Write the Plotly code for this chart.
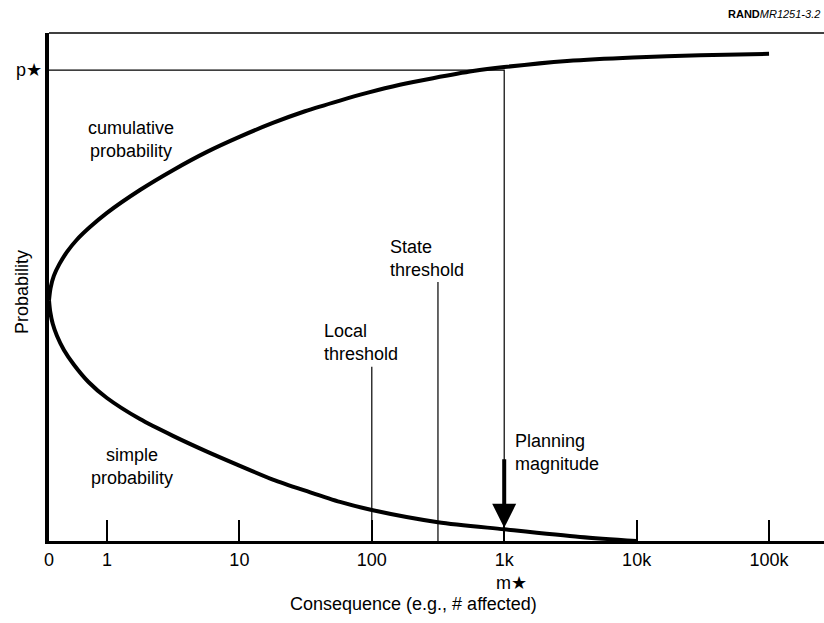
import math
import plotly.graph_objects as go

# ---- data ----
tick_vals = [0.365, 1, 10, 100, 1000, 10000, 100000]
tick_text = ["0", "1", "10", "100", "1k", "10k", "100k"]

cum_x = [0.365, 0.375, 0.397, 0.437, 0.499, 0.592, 0.744, 1.0, 1.775, 3.15, 5.69, 10.1, 17.9,
         31.3, 57.5, 92, 163, 290, 581, 1000, 2980, 9390, 30100, 100000]
cum_y = [0.474, 0.498, 0.522, 0.545, 0.569, 0.593, 0.618, 0.646, 0.691, 0.730, 0.766, 0.796, 0.823,
         0.846, 0.867, 0.882, 0.898, 0.911, 0.925, 0.933, 0.945, 0.952, 0.956, 0.959]

simple_x = [0.365, 0.373, 0.390, 0.419, 0.473, 0.563, 0.725, 1.0, 1.775, 3.15, 5.69, 10.1, 17.9,
            32.4, 57.5, 100, 316, 1000, 3737, 10000]
simple_y = [0.474, 0.451, 0.427, 0.404, 0.376, 0.347, 0.313, 0.2815, 0.240, 0.207, 0.176, 0.148, 0.121,
            0.098, 0.077, 0.061, 0.037, 0.023, 0.008, 0.0]

p_star = 0.927
m_star = 1000
local_threshold = 100
local_top = 0.343
state_threshold = 316
state_top = 0.510
arrow_tip = 0.026

x_min = 0.365
x_max = 260000

FONT = "Liberation Sans, Arial, Helvetica, sans-serif"

fig = go.Figure()

curve_line = dict(color="black", width=4, shape="spline", smoothing=0.8)
fig.add_trace(go.Scatter(x=cum_x, y=cum_y, mode="lines", line=curve_line, hoverinfo="skip"))
fig.add_trace(go.Scatter(x=simple_x, y=simple_y, mode="lines", line=curve_line, hoverinfo="skip"))

# p* horizontal and planning-magnitude vertical
fig.add_trace(go.Scatter(x=[x_min, m_star, m_star], y=[p_star, p_star, 0], mode="lines",
                         line=dict(color="black", width=1.2), hoverinfo="skip"))
# thresholds
fig.add_trace(go.Scatter(x=[local_threshold, local_threshold], y=[local_top, 0], mode="lines",
                         line=dict(color="black", width=1.2), hoverinfo="skip"))
fig.add_trace(go.Scatter(x=[state_threshold, state_threshold], y=[state_top, 0], mode="lines",
                         line=dict(color="black", width=1.2), hoverinfo="skip"))

W, H = 824, 623
L, R, T, B = 49, 0, 33, 82
PW, PH = W - L - R, H - T - B

def px(xp):
    return (xp - L) / PW

def py(yp):
    return (H - B - yp) / PH

anns = []
def txt(text, x, y, xanchor="center", yanchor="middle", size=18, align="center", angle=0):
    anns.append(dict(text=text, x=x, y=y, xref="paper", yref="paper", xanchor=xanchor, yanchor=yanchor,
                     showarrow=False, align=align, textangle=angle,
                     font=dict(family=FONT, size=size, color="black")))

txt("p★", px(44), p_star, xanchor="right", yanchor="middle")
txt("Probability", px(22), py(292), angle=-90)
txt("cumulative<br>probability", px(131), py(139))
txt("simple<br>probability", px(132), py(466))
txt("Local<br>threshold", px(322), py(342), xanchor="left", align="left")
txt("State<br>threshold", px(388), py(258), xanchor="left", align="left")
txt("Planning<br>magnitude", px(513), py(452), xanchor="left", align="left")
txt("m★", px(494), py(583), xanchor="left")
txt("Consequence (e.g., # affected)", px(413), py(604))
txt("<b>RAND</b><i>MR1251-3.2</i>", px(822), py(14), xanchor="right", size=11)

# thick arrow
anns.append(dict(x=math.log10(m_star), y=arrow_tip, xref="x", yref="y", ax=0, ay=-70,
                 axref="pixel", ayref="pixel", showarrow=True, arrowhead=2, arrowsize=1.2,
                 arrowwidth=4, arrowcolor="black", text=""))

fig.update_layout(
    width=W, height=H,
    margin=dict(l=L, r=R, t=T, b=B),
    paper_bgcolor="white", plot_bgcolor="white",
    showlegend=False,
    annotations=anns,
    shapes=[dict(type="line", xref="paper", yref="paper", x0=0, x1=1, y0=1, y1=1,
                 line=dict(color="black", width=1.5))],
    xaxis=dict(type="log", range=[math.log10(x_min), math.log10(x_max)], tickvals=tick_vals,
               ticktext=tick_text, ticks="inside", ticklen=21, tickwidth=1.5, tickcolor="black",
               showgrid=False, zeroline=False, showline=True, linewidth=3, linecolor="black",
               tickfont=dict(family=FONT, size=18, color="black")),
    yaxis=dict(range=[0, 1], showticklabels=False, ticks="", showgrid=False, zeroline=False,
               showline=True, linewidth=4, linecolor="black"),
)

fig.write_html("out.html", config={"displayModeBar": False},
               post_script="document.body.style.margin='0px';")
